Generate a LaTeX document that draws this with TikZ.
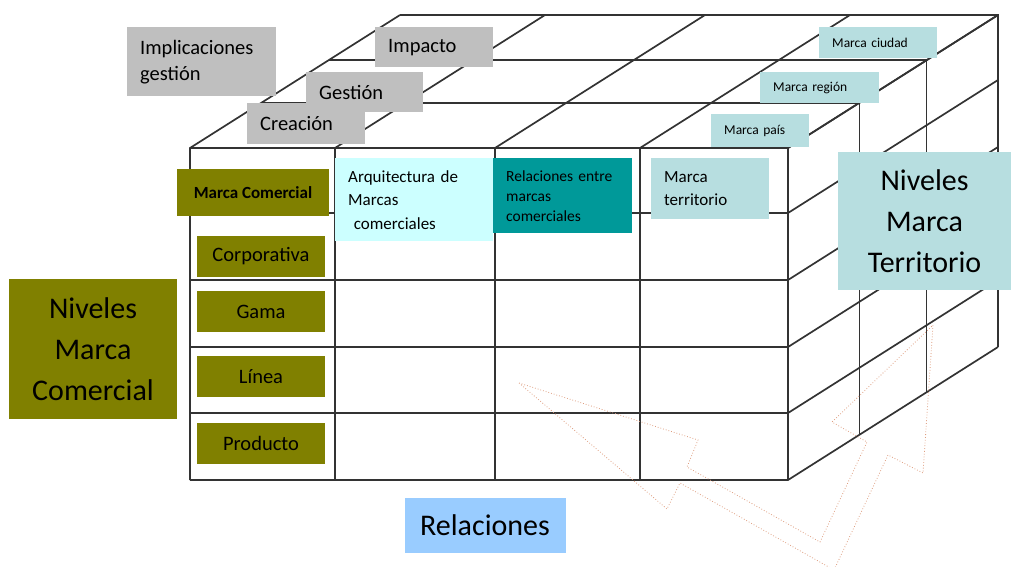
\documentclass[tikz,border=0pt]{standalone}
\usepackage{fontspec}
\setmainfont{Carlito}
\definecolor{gris}{RGB}{191,191,191}
\definecolor{oliva}{RGB}{128,128,0}
\definecolor{celeste}{RGB}{183,222,224}
\definecolor{cianclaro}{RGB}{204,255,255}
\definecolor{verdeazul}{RGB}{0,153,153}
\definecolor{azulclaro}{RGB}{153,204,255}
\definecolor{flechacol}{RGB}{222,158,128}
\begin{document}
\begin{tikzpicture}[x=1pt, y=-1pt,
    gridline/.style={line width=1.7pt, black!80},
    flecha/.style={draw=flechacol, dotted, line width=0.8pt},
    leftbox/.style={anchor=north west, align=left, inner xsep=13pt, inner ysep=2pt},
    midbox/.style={align=center, inner sep=2pt},
    graybox/.style={leftbox, fill=gris, font=\fontsize{20.5}{26}\selectfont},
    smallbox/.style={leftbox, fill=celeste, font=\fontsize{13.5}{16}\selectfont},
    cellbox/.style={leftbox, font=\fontsize{17}{23.5}\selectfont},
    olivebox/.style={midbox, fill=oliva, font=\fontsize{20.5}{25}\selectfont, minimum width=128pt, minimum height=41pt},
    bigbox/.style={midbox, font=\fontsize{30}{41}\selectfont}]
   \clip (0,0) rectangle (1011,567);
   % box: front, right and top faces
   \foreach \y in {148,213,280,347,413,480}
     \draw[gridline] (190,\y) -- (788,\y) -- ++(210,-133);
   \foreach \x in {190,335,495,640,788}
     \draw[gridline] (\x,480) -- (\x,148) -- ++(210,-133);
   \foreach \f in {0.34,0.66,1}
     \draw[gridline] (190+210*\f,148-133*\f) -- (788+210*\f,148-133*\f) -- (788+210*\f,480-133*\f);
   % double arrow
   \draw[flecha] (519,383) -- (698,440) -- (687,467) -- (820,542) -- (867,442) -- (832,422) -- (933,325)
     -- (923,473) -- (888,455) -- (834,570) -- (680,483) -- (667,509) -- cycle;
   % top labels
   \node[graybox, text width=123pt, minimum height=69pt] (implicaciones) at (127,27) {Implicaciones\\gestión};
   \node[graybox, text width=92pt, minimum height=40pt] (impacto) at (375,27) {Impacto};
   \node[graybox, text width=91pt, minimum height=40pt] (gestion) at (306,72) {Gestión};
   \node[graybox, text width=92pt, minimum height=41pt] (creacion) at (247,103) {Creación};
   \node[smallbox, text width=92pt, minimum height=31pt] (ciudad) at (819,27) {Marca ciudad};
   \node[smallbox, text width=93pt, minimum height=31pt] (region) at (760,72) {Marca región};
   \node[smallbox, text width=72pt, minimum height=33pt] (pais) at (711,114) {Marca país};
   % first row
   \node[cellbox, fill=cianclaro, text width=132pt, minimum height=83pt] (arquitectura) at (335,158) {Arquitectura de\\Marcas\\\ comerciales};
   \node[cellbox, fill=verdeazul, text width=113pt, minimum height=75pt, font=\fontsize{15.5}{20}\selectfont] (relentre) at (493,158) {Relaciones entre\\marcas\\comerciales};
   \node[cellbox, fill=celeste, text width=92pt, minimum height=61pt] (marcaterr) at (651,158) {Marca\\territorio};
   % levels
   \node[olivebox, minimum width=152pt, minimum height=47pt, font=\bfseries\fontsize{17}{20}\selectfont] (comercial) at (253,192.5) {Marca Comercial};
   \node[olivebox] (corporativa) at (261,256.5) {Corporativa};
   \node[olivebox] (gama) at (261,311.5) {Gama};
   \node[olivebox] (linea) at (261,376.5) {Línea};
   \node[olivebox] (producto) at (261,443.5) {Producto};
   \node[bigbox, fill=oliva, minimum width=168pt, minimum height=140pt] (nivcomercial) at (93,349) {Niveles\\Marca\\Comercial};
   \node[bigbox, fill=celeste, minimum width=173pt, minimum height=138pt] (nivterritorio) at (924.5,221) {Niveles\\Marca\\Territorio};
   \node[bigbox, fill=azulclaro, minimum width=161pt, minimum height=55pt] (relaciones) at (485,525.5) {Relaciones};
\end{tikzpicture}
\end{document}
